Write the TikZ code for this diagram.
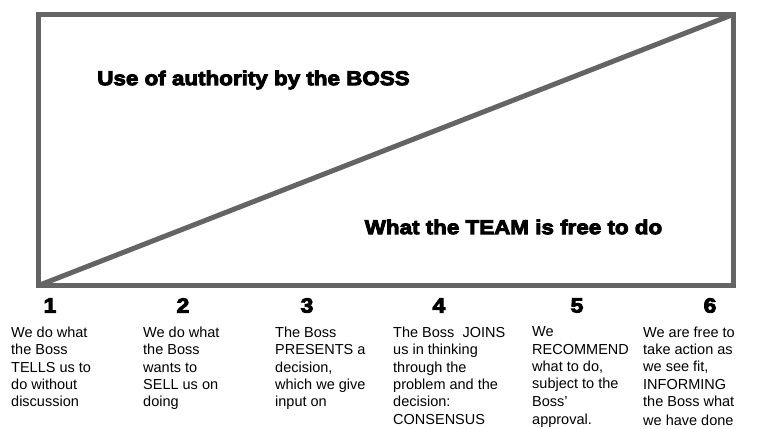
\documentclass[tikz,border=0pt]{standalone}
\usepackage{fontspec}
\setmainfont{Liberation Sans}
\newfontfamily\heavy{Liberation Sans Bold}[FakeBold=4.5,FakeStretch=1.12]
\definecolor{framegray}{RGB}{100,100,100}
\begin{document}
\begin{tikzpicture}[x=1pt,y=-1pt,
  frame/.style={draw=framegray,line width=5pt,line join=miter},
  headline/.style={font=\heavy\fontsize{20}{24}\selectfont,inner sep=0pt},
  levelnum/.style={font=\heavy\fontsize{20.5}{24}\selectfont,inner sep=0pt},
  levelnote/.style={font=\fontsize{14.5}{17.4}\selectfont,align=left,anchor=north west,inner sep=0pt}]
  \useasboundingbox (0,0) rectangle (765,428);
  % frame and its diagonal
  \coordinate (tl) at (38.5,14.5);
  \coordinate (br) at (733,285.5);
  \coordinate (bl) at (38.5,285.5);
  \coordinate (tr) at (733,14.5);
  \draw[frame] (tl) rectangle (br);
  \draw[frame] (bl) -- (tr);
  % the two halves
  \node[headline] (boss) at (253.5,80) {Use of authority by the BOSS};
  \node[headline] (team) at (513.5,227) {What the TEAM is free to do};
  % scale of levels
  \foreach \i/\x in {1/50,2/183,3/307,4/439,5/577,6/710}
    \node[levelnum] (n\i) at (\x,305.5) {\i};
  \node[levelnote] (d1) at (11,326.5) {We do what\\the Boss\\TELLS us to\\do without\\discussion};
  \node[levelnote] (d2) at (143,326.5) {We do what\\the Boss\\wants to\\SELL us on\\doing};
  \node[levelnote] (d3) at (275,326.5) {The Boss\\PRESENTS a\\decision,\\which we give\\input on};
  \node[levelnote] (d4) at (393,326.5) {The Boss\ \ JOINS\\us in thinking\\through the\\problem and the\\decision:\\CONSENSUS};
  \node[levelnote] (d5) at (532,326.5) {We\\RECOMMEND\\what to do,\\subject to the\\Boss’\\[1pt]approval.};
  \node[levelnote] (d6) at (643,326.5) {We are free to\\take action as\\we see fit,\\INFORMING\\the Boss what\\[1pt]we have done};
\end{tikzpicture}
\end{document}
